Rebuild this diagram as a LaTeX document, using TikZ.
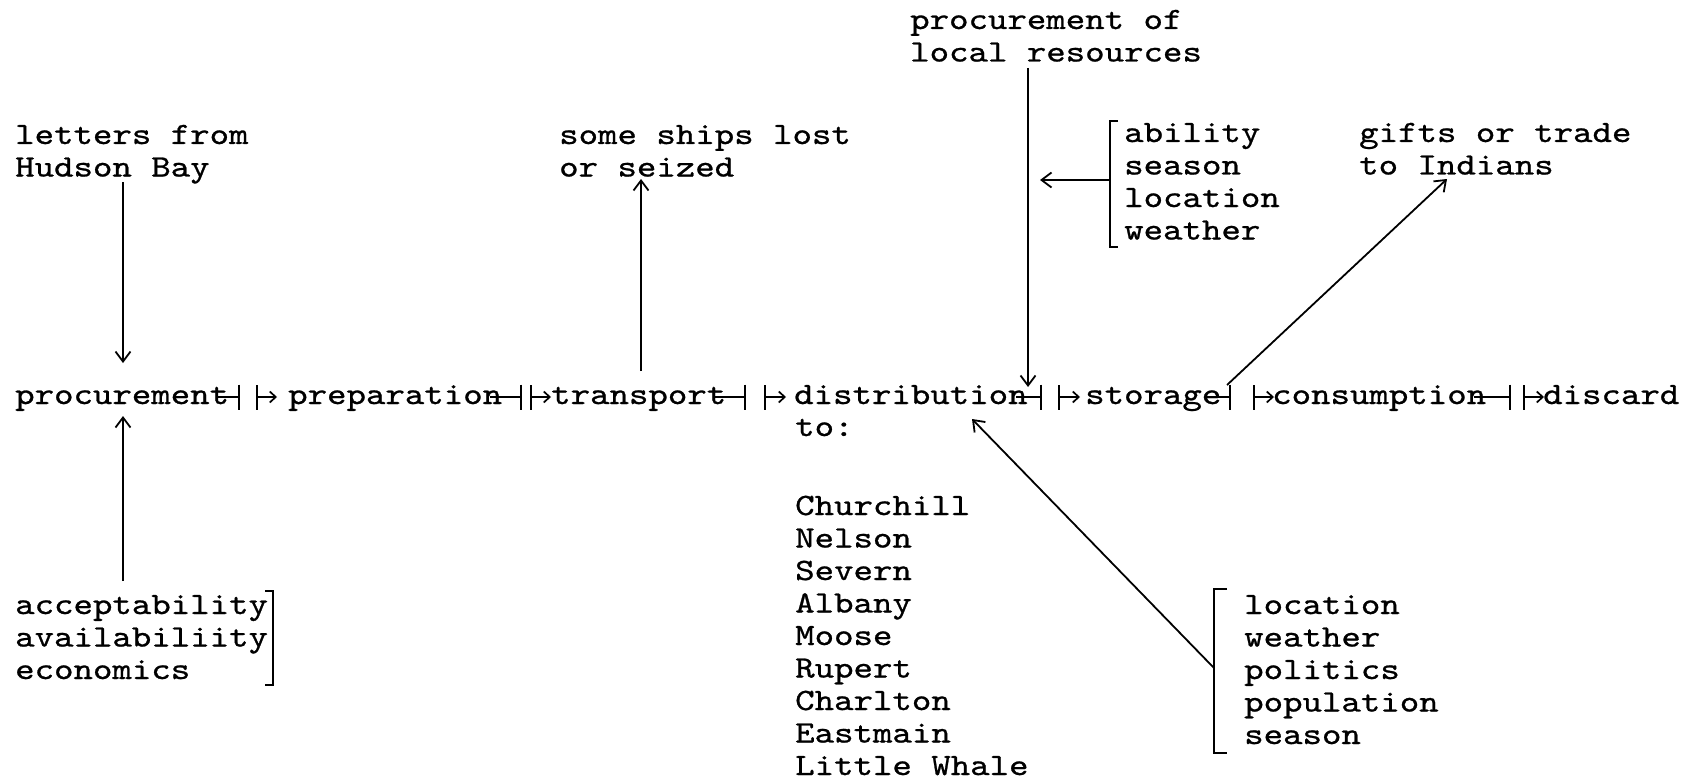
\documentclass[tikz,border=0pt]{standalone}
\usepackage{fontspec}
\newfontfamily\twfont{lmmono10-regular}[Extension=.otf,FakeBold=0.8,FakeStretch=1.195]
\usetikzlibrary{arrows.meta,calc}
\begin{document}
\begin{tikzpicture}[x=1pt,y=-1pt,
  txt/.style={anchor=base west,inner sep=0pt,text height=20pt,text depth=6pt,
    font=\fontsize{31}{32.5}\selectfont\twfont},
  ln/.style={line width=1.8pt,line cap=butt},
  arr/.style={ln,-{Straight Barb[length=10pt,width=15pt,line width=1.8pt]}},
  tee/.style={ln,-{Bar[width=25pt,line width=2pt]}},
  mapsto/.style={ln,{Bar[width=25pt,line width=2pt]}-{Straight Barb[length=6pt,width=11pt,line width=1.7pt]}},
  brk/.style={ln,line join=miter}]
\fill[white] (0,0) rectangle (1703,781);
\useasboundingbox (0,0) rectangle (1703,781);

% main line
\node[txt] (proc)  at (15,404)   {procurement};
\node[txt] (prep)  at (288,404)  {preparation};
\node[txt] (trans) at (551,404)  {transport};
\node[txt] (dist)  at (794,404)  {distribution};
\node[txt] (stor)  at (1085,404) {storage};
\node[txt] (cons)  at (1272,404) {consumption};
\node[txt] (disc)  at (1543,404) {discard};

% connectors -| |->  (bar, second bar, arrow tip)
\foreach \a/\b/\p/\q/\r in {proc/prep/240/256/277, prep/trans/522/530/551,
    trans/dist/746/764/786, dist/stor/1042/1058/1080, stor/cons/1231/1253/1274,
    cons/disc/1511/1523/1544}{
  \draw[tee] ([xshift=-12pt,yshift=7pt]\a.base east) -- (\p,397);
  \draw[mapsto] (\q,397) -- (\r,397);
}

% top texts
\node[txt] (lf1) at (15,144)   {letters from};
\node[txt] (lf2) at (15,176.5) {Hudson Bay};
\node[txt] (sh1) at (559,144)   {some ships lost};
\node[txt] (sh2) at (559,176.5) {or seized};
\node[txt] (pl1) at (910,29)   {procurement of};
\node[txt] (pl2) at (910,61.5) {local resources};
\node[txt] (ab1) at (1124,142)   {ability};
\node[txt] (ab2) at (1124,174.5) {season};
\node[txt] (ab3) at (1124,207)   {location};
\node[txt] (ab4) at (1124,239.5) {weather};
\node[txt] (gf1) at (1359,142)   {gifts or trade};
\node[txt] (gf2) at (1359,174.5) {to Indians};

% distribution list
\node[txt] (to) at (795,436) {to:};
\foreach \n [count=\i from 0] in {Churchill,Nelson,Severn,Albany,Moose,Rupert,Charlton,Eastmain,Little Whale}{
  \node[txt] (post\i) at (795,{515+32.5*\i}) {\n};
}

% bottom-left list
\node[txt] (ac1) at (15,614) {acceptability};
\node[txt] (ac2) at (15,646.5)   {availabiliity};
\node[txt] (ac3) at (15,679) {economics};

% bottom-right list
\foreach \n [count=\i from 0] in {location,weather,politics,population,season}{
  \node[txt] (lc\i) at (1244,{614+32.5*\i}) {\n};
}

% brackets
\draw[brk] (1118,121) -- (1110,121) -- (1110,247) -- (1118,247);
\draw[brk] (265,591) -- (273,591) -- (273,685) -- (265,685);
\draw[brk] (1227,589) -- (1214,589) -- (1214,753) -- (1227,753);

% arrow end points
\coordinate (lfS) at (123,182);  \coordinate (lfE) at (123,363);
\coordinate (acS) at (123,581);  \coordinate (acE) at (123,416);
\coordinate (shS) at (641,371);  \coordinate (shE) at (641,179);
\coordinate (plS) at (1028,68);  \coordinate (plE) at (1028,387);
\coordinate (abS) at (1110,180); \coordinate (abE) at (1040,180);
\coordinate (gfS) at (1227,385); \coordinate (gfE) at (1447,179);
\coordinate (lcS) at (1214,668); \coordinate (lcE) at (972,419);

\draw[arr] (lfS) -- (lfE);
\draw[arr] (acS) -- (acE);
\draw[arr] (shS) -- (shE);
\draw[arr] (plS) -- (plE);
\draw[arr] (abS) -- (abE);
\draw[arr] (gfS) -- (gfE);
\draw[arr] (lcS) -- (lcE);
\end{tikzpicture}
\end{document}
